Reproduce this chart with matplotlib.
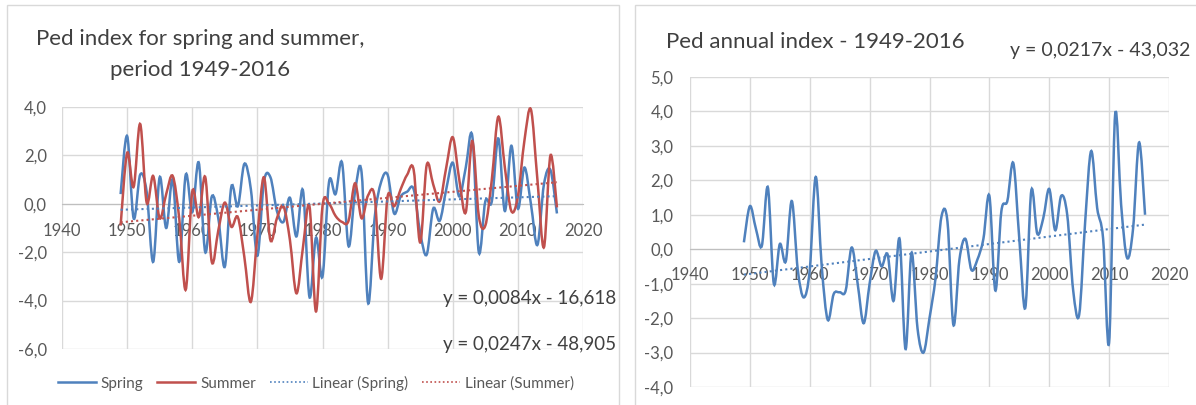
import numpy as np
import matplotlib
matplotlib.use("Agg")
import matplotlib.pyplot as plt
from matplotlib.path import Path
from matplotlib.patches import PathPatch, Rectangle
from matplotlib.lines import Line2D
from matplotlib.ticker import MultipleLocator, FuncFormatter

plt.rcParams['font.family'] = ['Lato', 'DejaVu Sans']

years = list(range(1949, 2017))

# spring index (blue, left chart)
spring = [0.4,
          2.8, -0.6, 1.2, 0.5, -2.4, 1.1, -1.0, 1.0, -2.4, 1.2,
          -0.35, 1.7, -2.0, 0.3, -0.6, -2.6, 0.7, -0.1, 1.65, 0.6,
          -2.15, 0.9, 1.1, -0.3, -0.75, 0.25, -1.35, 0.55, -3.85, -1.4,
          -3.0, 0.9, 0.4, 1.7, -1.75, 0.5, 1.3, -4.1, -0.6, 0.9,
          1.2, -0.4, 0.3, 0.5, 0.6, -1.2, -2.1, -0.2, -0.7, 0.6,
          1.7, 0.3, 1.5, 2.8, -2.0, 0.1, 0.1, 2.7, -0.3, 2.4,
          -0.2, 1.5, 0.0, -1.7, 0.8, 1.4, -0.4]

# summer index (red, left chart)
summer = [-0.9,
          2.1, 0.7, 3.3, 0.05, 1.15, -0.6, 0.4, 1.15, -0.6, -3.55,
          0.5, -0.55, 1.1, -2.4, -1.1, 0.05, -0.95, -0.55, -2.2, -4.05,
          -1.3, 1.1, -1.5, -0.6, -0.1, -1.5, -3.7, -1.8, -0.1, -4.45,
          -0.1, 0.0, -0.5, -0.75, -0.7, 0.85, -0.6, 0.35, 0.3, -3.1,
          0.3, -0.1, 0.6, 1.2, 1.4, -1.6, 1.6, 0.8, 0.1, 1.5,
          2.75, 1.0, -0.35, 2.6, -0.5, -0.9, 1.0, 3.6, 1.5, -0.3,
          0.3, 2.6, 3.9, 1.0, -1.8, 2.0, -0.15]

# annual index (right chart)
annual = [0.2,
          1.25, 0.6, 0.1, 1.8, -1.0, 0.15, -0.35, 1.4, -0.6, -1.4,
          -0.6, 2.1, -0.5, -2.05, -1.3, -1.25, -1.2, 0.05, -1.0, -2.15,
          -1.0, -0.05, -0.5, -0.15, -1.5, 0.3, -2.9, -0.1, -2.3, -3.0,
          -2.0, -0.85, 0.95, 0.8, -2.2, -0.3, 0.3, -0.6, -0.3, 0.3,
          1.55, -1.2, 1.1, 1.4, 2.5, 0.3, -1.7, 1.7, 0.45, 0.9,
          1.75, 0.55, 1.55, 1.0, -1.2, -1.9, 0.8, 2.85, 1.2, 0.3,
          -2.7, 3.9, 1.3, -0.25, 0.6, 3.1, 1.0]

# trendline coefficients as printed on the charts (slope, intercept)
trend_spring = (0.0084, -16.618)
trend_summer = (0.0247, -48.905)
trend_annual = (0.0217, -43.032)

BLUE = '#4F81BD'
RED = '#C0504D'
GRID = '#D9D9D9'
TXT = '#595959'
DARK = '#404040'
W, H = 1196, 405


def smooth_path(x, y):
    # excel style smoothed line, bezier segments between the data points
    pts = np.column_stack([np.asarray(x, float), np.asarray(y, float)])
    n = len(pts)
    verts = [pts[0]]
    codes = [Path.MOVETO]
    for i in range(n - 1):
        p0 = pts[i - 1] if i > 0 else pts[i]
        p1 = pts[i]
        p2 = pts[i + 1]
        p3 = pts[i + 2] if i + 2 < n else pts[i + 1]
        verts += [p1 + (p2 - p0) / 6, p2 - (p3 - p1) / 6, p2]
        codes += [Path.CURVE4] * 3
    return Path(verts, codes)


def comma(v, pos):
    if abs(v) < 1e-9:
        v = 0.0
    return f'{v:.1f}'.replace('.', ',')


def style(ax, ymin, ymax, ystep, ypad, xpad):
    ax.set_xlim(1940, 2020)
    ax.set_ylim(ymin, ymax)
    ax.xaxis.set_major_locator(MultipleLocator(10))
    ax.yaxis.set_major_locator(MultipleLocator(ystep))
    ax.yaxis.set_major_formatter(FuncFormatter(comma))
    ax.grid(True, color=GRID, lw=1)
    ax.set_axisbelow(True)
    for s in ['top', 'right', 'left']:
        ax.spines[s].set_visible(False)
    ax.spines['bottom'].set_position(('data', 0))
    ax.spines['bottom'].set_color('#BFBFBF')
    ax.spines['bottom'].set_zorder(1)
    ax.tick_params(length=0, labelsize=12, colors=TXT)
    ax.tick_params(axis='y', pad=ypad)
    ax.tick_params(axis='x', pad=xpad)
    ax.patch.set_alpha(0)


def trend(ax, coef, color):
    xs = np.array([years[0], years[-1]])
    ax.plot(xs, coef[0] * xs + coef[1], color=color, lw=1.5,
            ls=(0, (1, 1.5)), zorder=4)


fig = plt.figure(figsize=(W / 100, H / 100), dpi=100)

# chart frames
fig.patches.append(Rectangle((7 / W, -0.01), 612 / W, 1 - 5 / H + 0.01,
                             transform=fig.transFigure, fill=False,
                             ec=GRID, lw=1))
fig.patches.append(Rectangle((635 / W, -0.01), 600 / W, 1 - 5 / H + 0.01,
                             transform=fig.transFigure, fill=False,
                             ec=GRID, lw=1))

# left chart: spring and summer
ax1 = fig.add_axes([62 / W, (H - 349) / H, 521 / W, 242 / H])
style(ax1, -6, 4, 2, 11, 14)
ax1.add_patch(PathPatch(smooth_path(years, spring), fill=False,
                        ec=BLUE, lw=1.8, zorder=3))
ax1.add_patch(PathPatch(smooth_path(years, summer), fill=False,
                        ec=RED, lw=1.8, zorder=3))
trend(ax1, trend_spring, BLUE)
trend(ax1, trend_summer, RED)

fig.text(200 / W, 1 - 45 / H, 'Ped index for spring and summer,',
         ha='center', va='baseline', fontsize=16, color=DARK)
fig.text(200 / W, 1 - 76 / H, 'period 1949-2016',
         ha='center', va='baseline', fontsize=16, color=DARK)
fig.text(443 / W, 1 - 304 / H, 'y = 0,0084x - 16,618',
         ha='left', va='baseline', fontsize=13.5, color=DARK)
fig.text(443 / W, 1 - 350 / H, 'y = 0,0247x - 48,905',
         ha='left', va='baseline', fontsize=13.5, color=DARK)

handles = [Line2D([], [], color=BLUE, lw=1.8),
           Line2D([], [], color=RED, lw=1.8),
           Line2D([], [], color=BLUE, lw=1.2, ls=(0, (1, 1.5))),
           Line2D([], [], color=RED, lw=1.2, ls=(0, (1, 1.5)))]
labels = ['Spring', 'Summer', 'Linear (Spring)', 'Linear (Summer)']
leg = fig.legend(handles, labels, loc='center',
                 bbox_to_anchor=(316 / W, 1 - 383 / H), ncol=4,
                 frameon=False, fontsize=11, handlelength=2.5,
                 columnspacing=0.9, handletextpad=0.3)
for t in leg.get_texts():
    t.set_color(TXT)

# right chart: annual
ax2 = fig.add_axes([690 / W, (H - 387) / H, 479 / W, 310 / H])
style(ax2, -4, 5, 1, 12, 13)
ax2.add_patch(PathPatch(smooth_path(years, annual), fill=False,
                        ec=BLUE, lw=1.8, zorder=3))
trend(ax2, trend_annual, BLUE)

fig.text(666 / W, 1 - 48 / H, 'Ped annual index - 1949-2016',
         ha='left', va='baseline', fontsize=16, color=DARK)
fig.text(1190 / W, 1 - 56 / H, 'y = 0,0217x - 43,032',
         ha='right', va='baseline', fontsize=14, color=DARK)

fig.savefig('out.png', dpi=100)
